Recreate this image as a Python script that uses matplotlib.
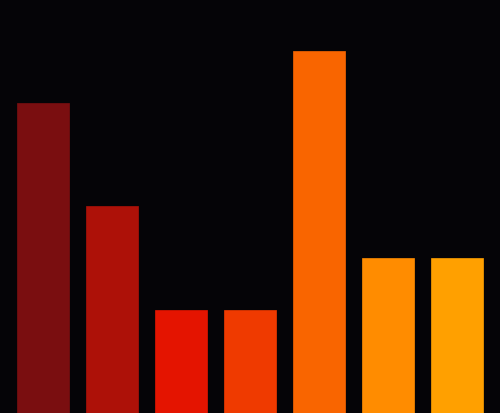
import matplotlib
matplotlib.use("Agg")
import matplotlib.pyplot as plt

categories = ["A", "B", "C", "D", "E", "F", "G"]
values = [6, 4, 2, 2, 7, 3, 3]
colors = ["#7a0e10", "#ad1108", "#e41400", "#ef3a00", "#f96500", "#ff8c00", "#ffa000"]

fig = plt.figure(figsize=(5.0, 4.14), dpi=100)
fig.patch.set_facecolor("#050407")
ax = fig.add_axes([0, 0, 1, 1])
ax.set_facecolor("#050407")
x = list(range(len(categories)))
ax.bar(x, values, width=0.74, color=colors, edgecolor=colors, linewidth=0.5)
ax.set_xlim(-0.623, len(categories) - 1 + 0.623)
ax.set_ylim(0, 8.0)
ax.axis("off")
fig.savefig("out.png", dpi=100, facecolor=fig.get_facecolor())
